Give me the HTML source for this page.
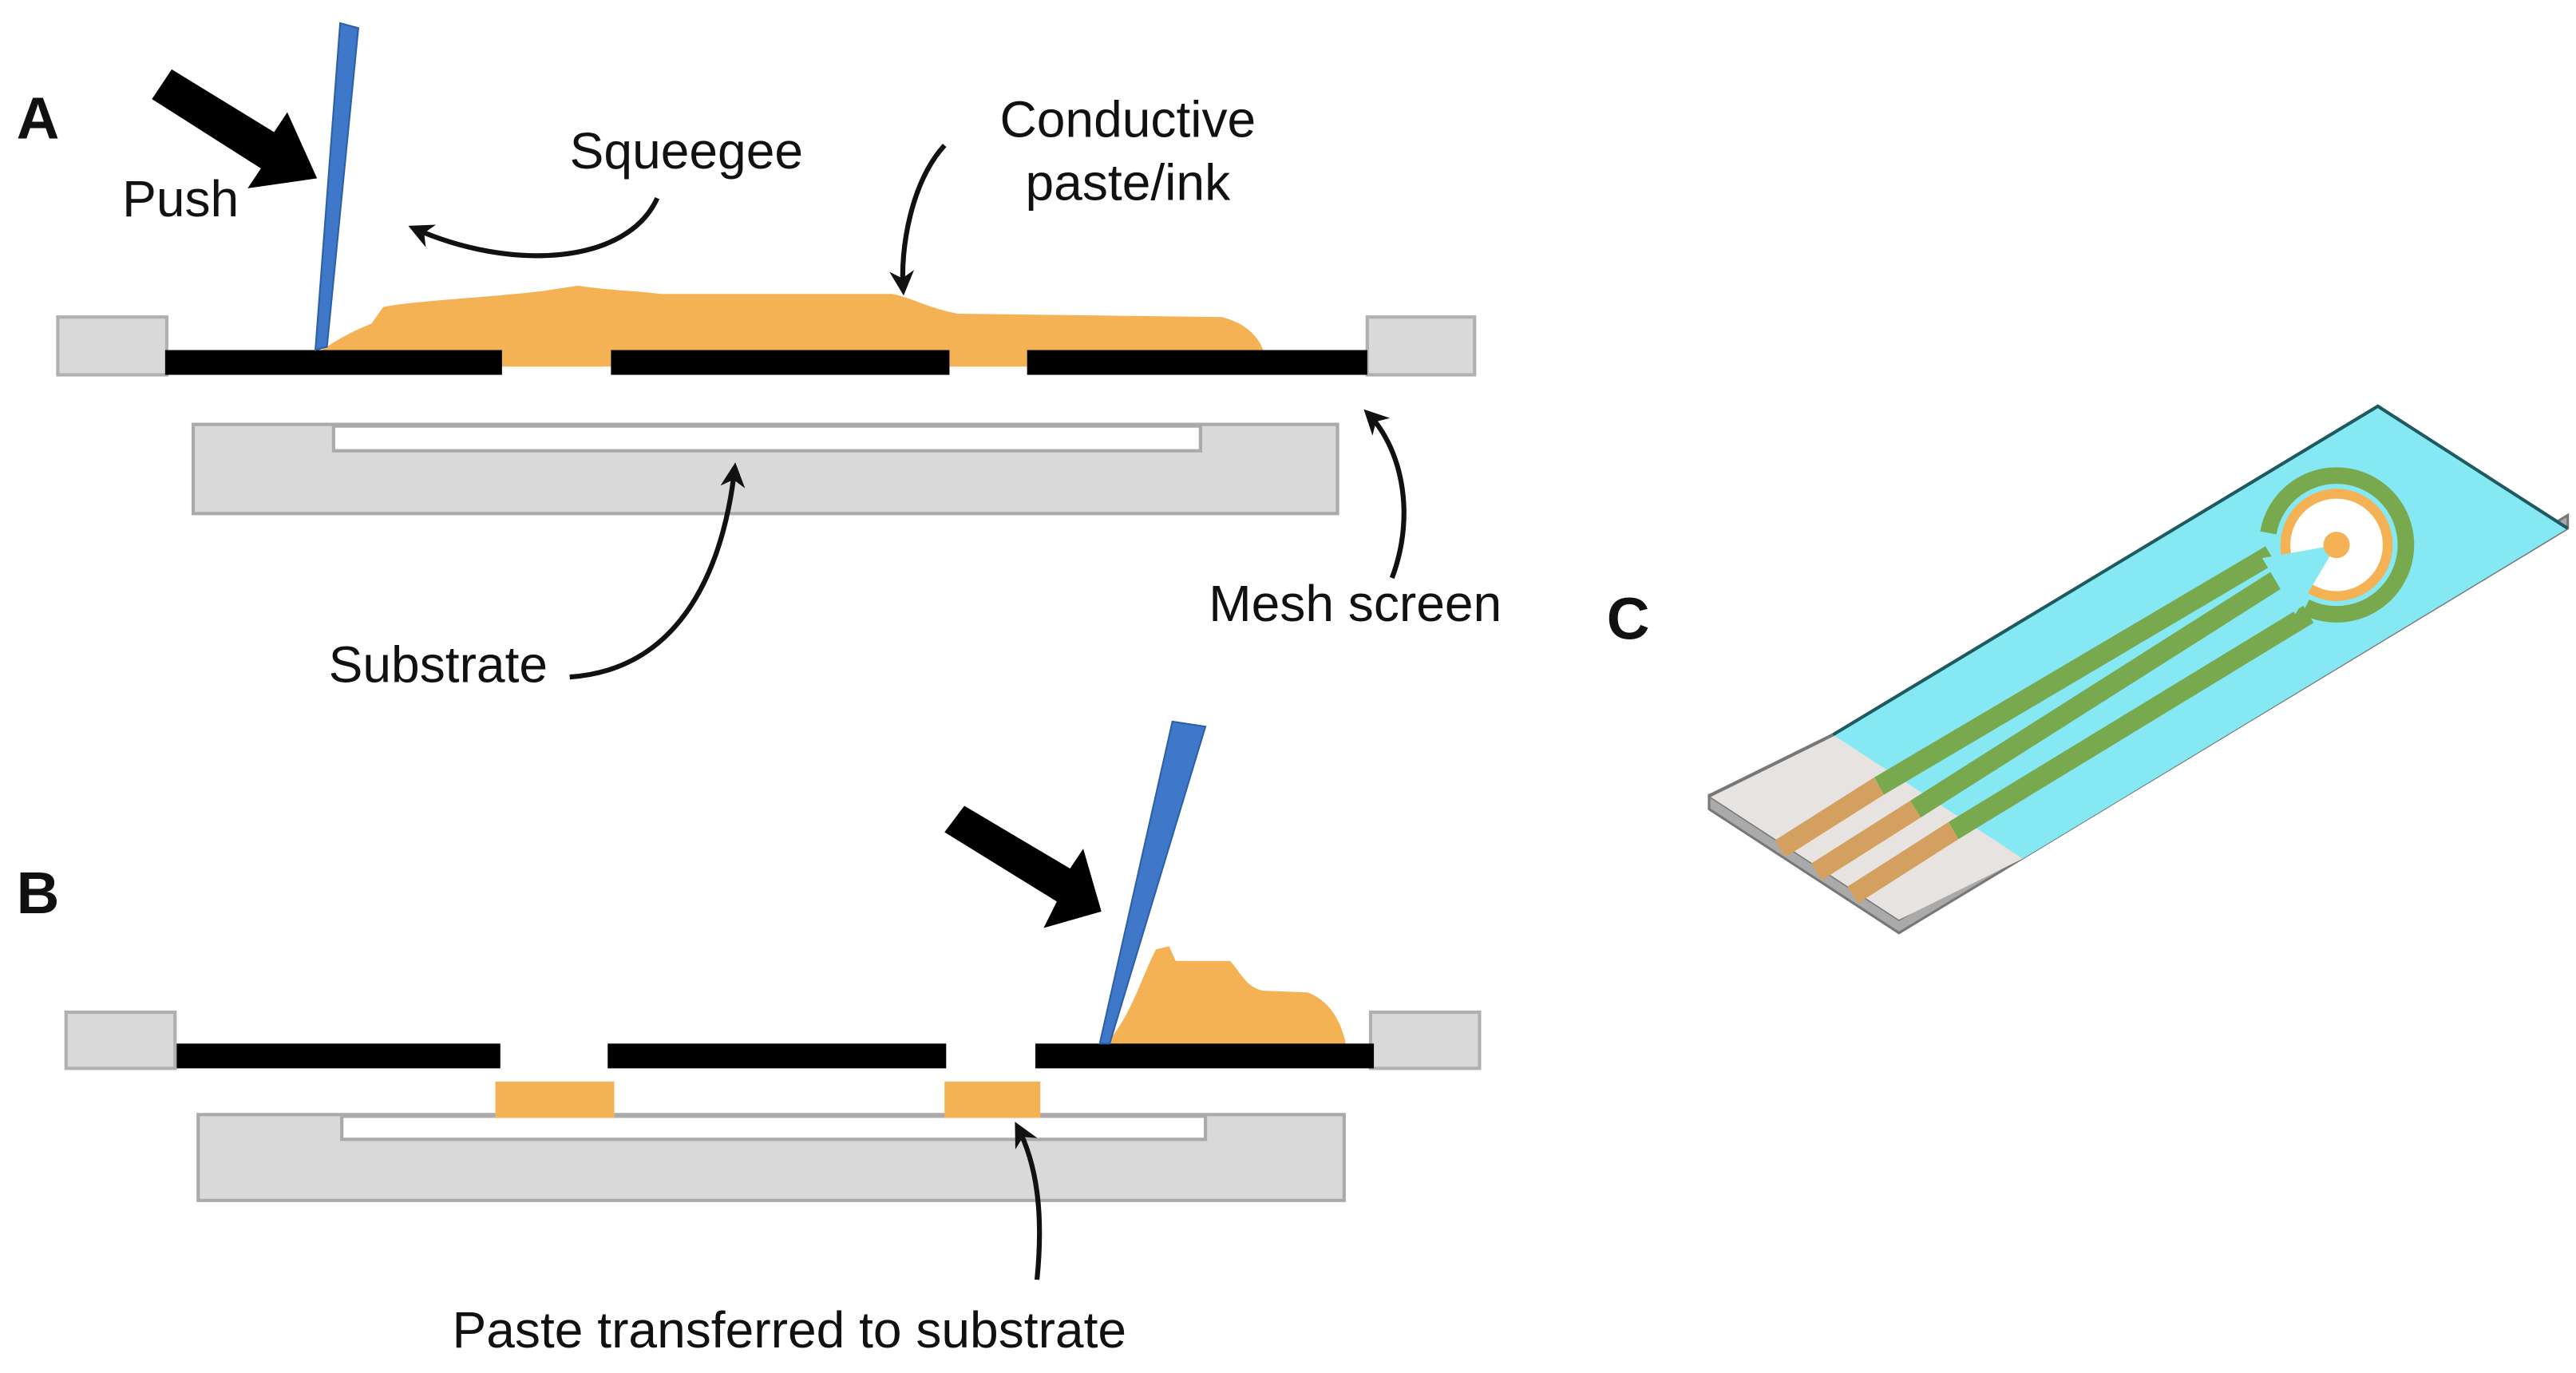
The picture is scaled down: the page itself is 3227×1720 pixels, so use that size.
<!DOCTYPE html>
<html><head><meta charset="utf-8"><style>
html,body{margin:0;padding:0;background:#fff;}
svg{display:block;}
text{font-family:"Liberation Sans",sans-serif;fill:#111;}
</style></head><body>
<svg width="3227" height="1720" viewBox="0 0 1560 831.5" preserveAspectRatio="none" xmlns="http://www.w3.org/2000/svg">
<defs>
<marker id="ah" viewBox="0 0 10 10" refX="8" refY="5" markerWidth="5" markerHeight="5" orient="auto"><path d="M0,0 L10,5 L0,10 L3,5 Z" fill="#111"/></marker>
</defs>
<!-- Panel A -->
<text x="10" y="84" font-size="36" font-weight="bold">A</text>
<polygon points="92,60 104,42 166,80 174,68 192,108 150,114 158,102" fill="#000"/>
<text x="74" y="131" font-size="31">Push</text>
<text x="345" y="102" font-size="31">Squeegee</text>
<text x="683" y="83" font-size="31" text-anchor="middle">Conductive</text>
<text x="683" y="121" font-size="31" text-anchor="middle">paste/ink</text>
<rect x="35" y="192" width="66" height="35" fill="#d9d9d9" stroke="#b0b0b0" stroke-width="2"/>
<rect x="828" y="192" width="65" height="35" fill="#d9d9d9" stroke="#b0b0b0" stroke-width="2"/>
<path d="M195,212 C205,205 215,200 225,196 L232,186 C250,182 300,180 330,176 L350,173 C370,176 385,176 400,178 L540,178 C552,180 560,186 580,190 L740,192 C755,196 762,204 765,212 L622,212 L622,222 L575,222 L575,212 L370,212 L370,222 L304,222 L304,212 Z" fill="#f5b255"/>
<rect x="100" y="212" width="204" height="15" fill="#000"/>
<rect x="370" y="212" width="205" height="15" fill="#000"/>
<rect x="622" y="212" width="206" height="15" fill="#000"/>
<polygon points="206,14 217,17 198,210 191,212" fill="#3f78c8" stroke="#2d5fa8" stroke-width="1"/>
<rect x="117" y="257" width="693" height="54" fill="#d9d9d9" stroke="#aaa" stroke-width="2"/>
<rect x="202" y="258" width="525" height="15" fill="#fff" stroke="#aaa" stroke-width="2"/>
<path d="M398,120 C380,160 310,165 250,138" fill="none" stroke="#111" stroke-width="3" marker-end="url(#ah)"/>
<path d="M572,88 C552,110 545,150 547,176" fill="none" stroke="#111" stroke-width="3" marker-end="url(#ah)"/>
<path d="M345,410 C420,405 440,330 445,283" fill="none" stroke="#111" stroke-width="3" marker-end="url(#ah)"/>
<path d="M843,350 C858,310 848,270 828,250" fill="none" stroke="#111" stroke-width="3" marker-end="url(#ah)"/>
<text x="199" y="413" font-size="31">Substrate</text>
<text x="732" y="376" font-size="31">Mesh screen</text>
<!-- Panel B -->
<text x="10" y="553" font-size="36" font-weight="bold">B</text>
<polygon points="572,504 584,488 648,526 656,514 667,552 632,562 640,546" fill="#000"/>
<rect x="40" y="613" width="66" height="34" fill="#d9d9d9" stroke="#b0b0b0" stroke-width="2"/>
<rect x="830" y="613" width="66" height="34" fill="#d9d9d9" stroke="#b0b0b0" stroke-width="2"/>
<path d="M670,632 C685,615 690,595 700,575 L708,573 L712,582 L745,582 C752,590 755,598 765,600 L792,601 C805,606 812,618 815,632 Z" fill="#f5b255"/>
<rect x="107" y="632" width="196" height="15" fill="#000"/>
<rect x="368" y="632" width="205" height="15" fill="#000"/>
<rect x="627" y="632" width="205" height="15" fill="#000"/>
<polygon points="710,437 730,440 672,632 666,632" fill="#3f78c8" stroke="#2d5fa8" stroke-width="1"/>
<rect x="120" y="675" width="694" height="52" fill="#d9d9d9" stroke="#aaa" stroke-width="2"/>
<rect x="207" y="676" width="523" height="14" fill="#fff" stroke="#aaa" stroke-width="2"/>
<rect x="300" y="655" width="72" height="22" fill="#f5b255"/>
<rect x="572" y="655" width="58" height="22" fill="#f5b255"/>
<path d="M628,775 C632,735 628,705 616,682" fill="none" stroke="#111" stroke-width="3" marker-end="url(#ah)"/>
<text x="478" y="816" font-size="31" text-anchor="middle">Paste transferred to substrate</text>
<!-- Panel C -->
<text x="973" y="387" font-size="36" font-weight="bold">C</text>
<polygon points="1035,490 1150,565 1555,320 1555,312 1150,557 1035,482" fill="#aaa" stroke="#777" stroke-width="1.5"/>
<polygon points="1035,482 1110,445 1225,520 1150,557" fill="#e6e3e0"/>
<polygon points="1110,445 1440,246 1555,320 1225,520" fill="#86e8f2"/>
<path d="M1110,445 L1440,246 L1555,320" fill="none" stroke="#1e5a60" stroke-width="2"/>
<path d="M1035,482 L1110,445" stroke="#777" stroke-width="2"/>
<g stroke="#d4a060" stroke-width="12">
<line x1="1078" y1="514" x2="1138" y2="476"/>
<line x1="1100" y1="528" x2="1160" y2="490"/>
<line x1="1122" y1="542" x2="1183" y2="503"/>
</g>
<g stroke="#79a94f" stroke-width="12" fill="none">
<line x1="1138" y1="476" x2="1375" y2="336"/>
<line x1="1160" y1="490" x2="1412" y2="330"/>
<line x1="1183" y1="503" x2="1398" y2="372"/>
</g>
<circle cx="1415" cy="330" r="42" fill="none" stroke="#79a94f" stroke-width="10" stroke-dasharray="210 54" transform="rotate(-170 1415 330)"/>
<circle cx="1415" cy="330" r="31" fill="#fff" stroke="#f5b255" stroke-width="6"/>
<polygon points="1415,330 1370,338 1390,372" fill="#86e8f2"/>
<circle cx="1415" cy="330" r="8" fill="#f5b255"/>
</svg>
</body></html>
